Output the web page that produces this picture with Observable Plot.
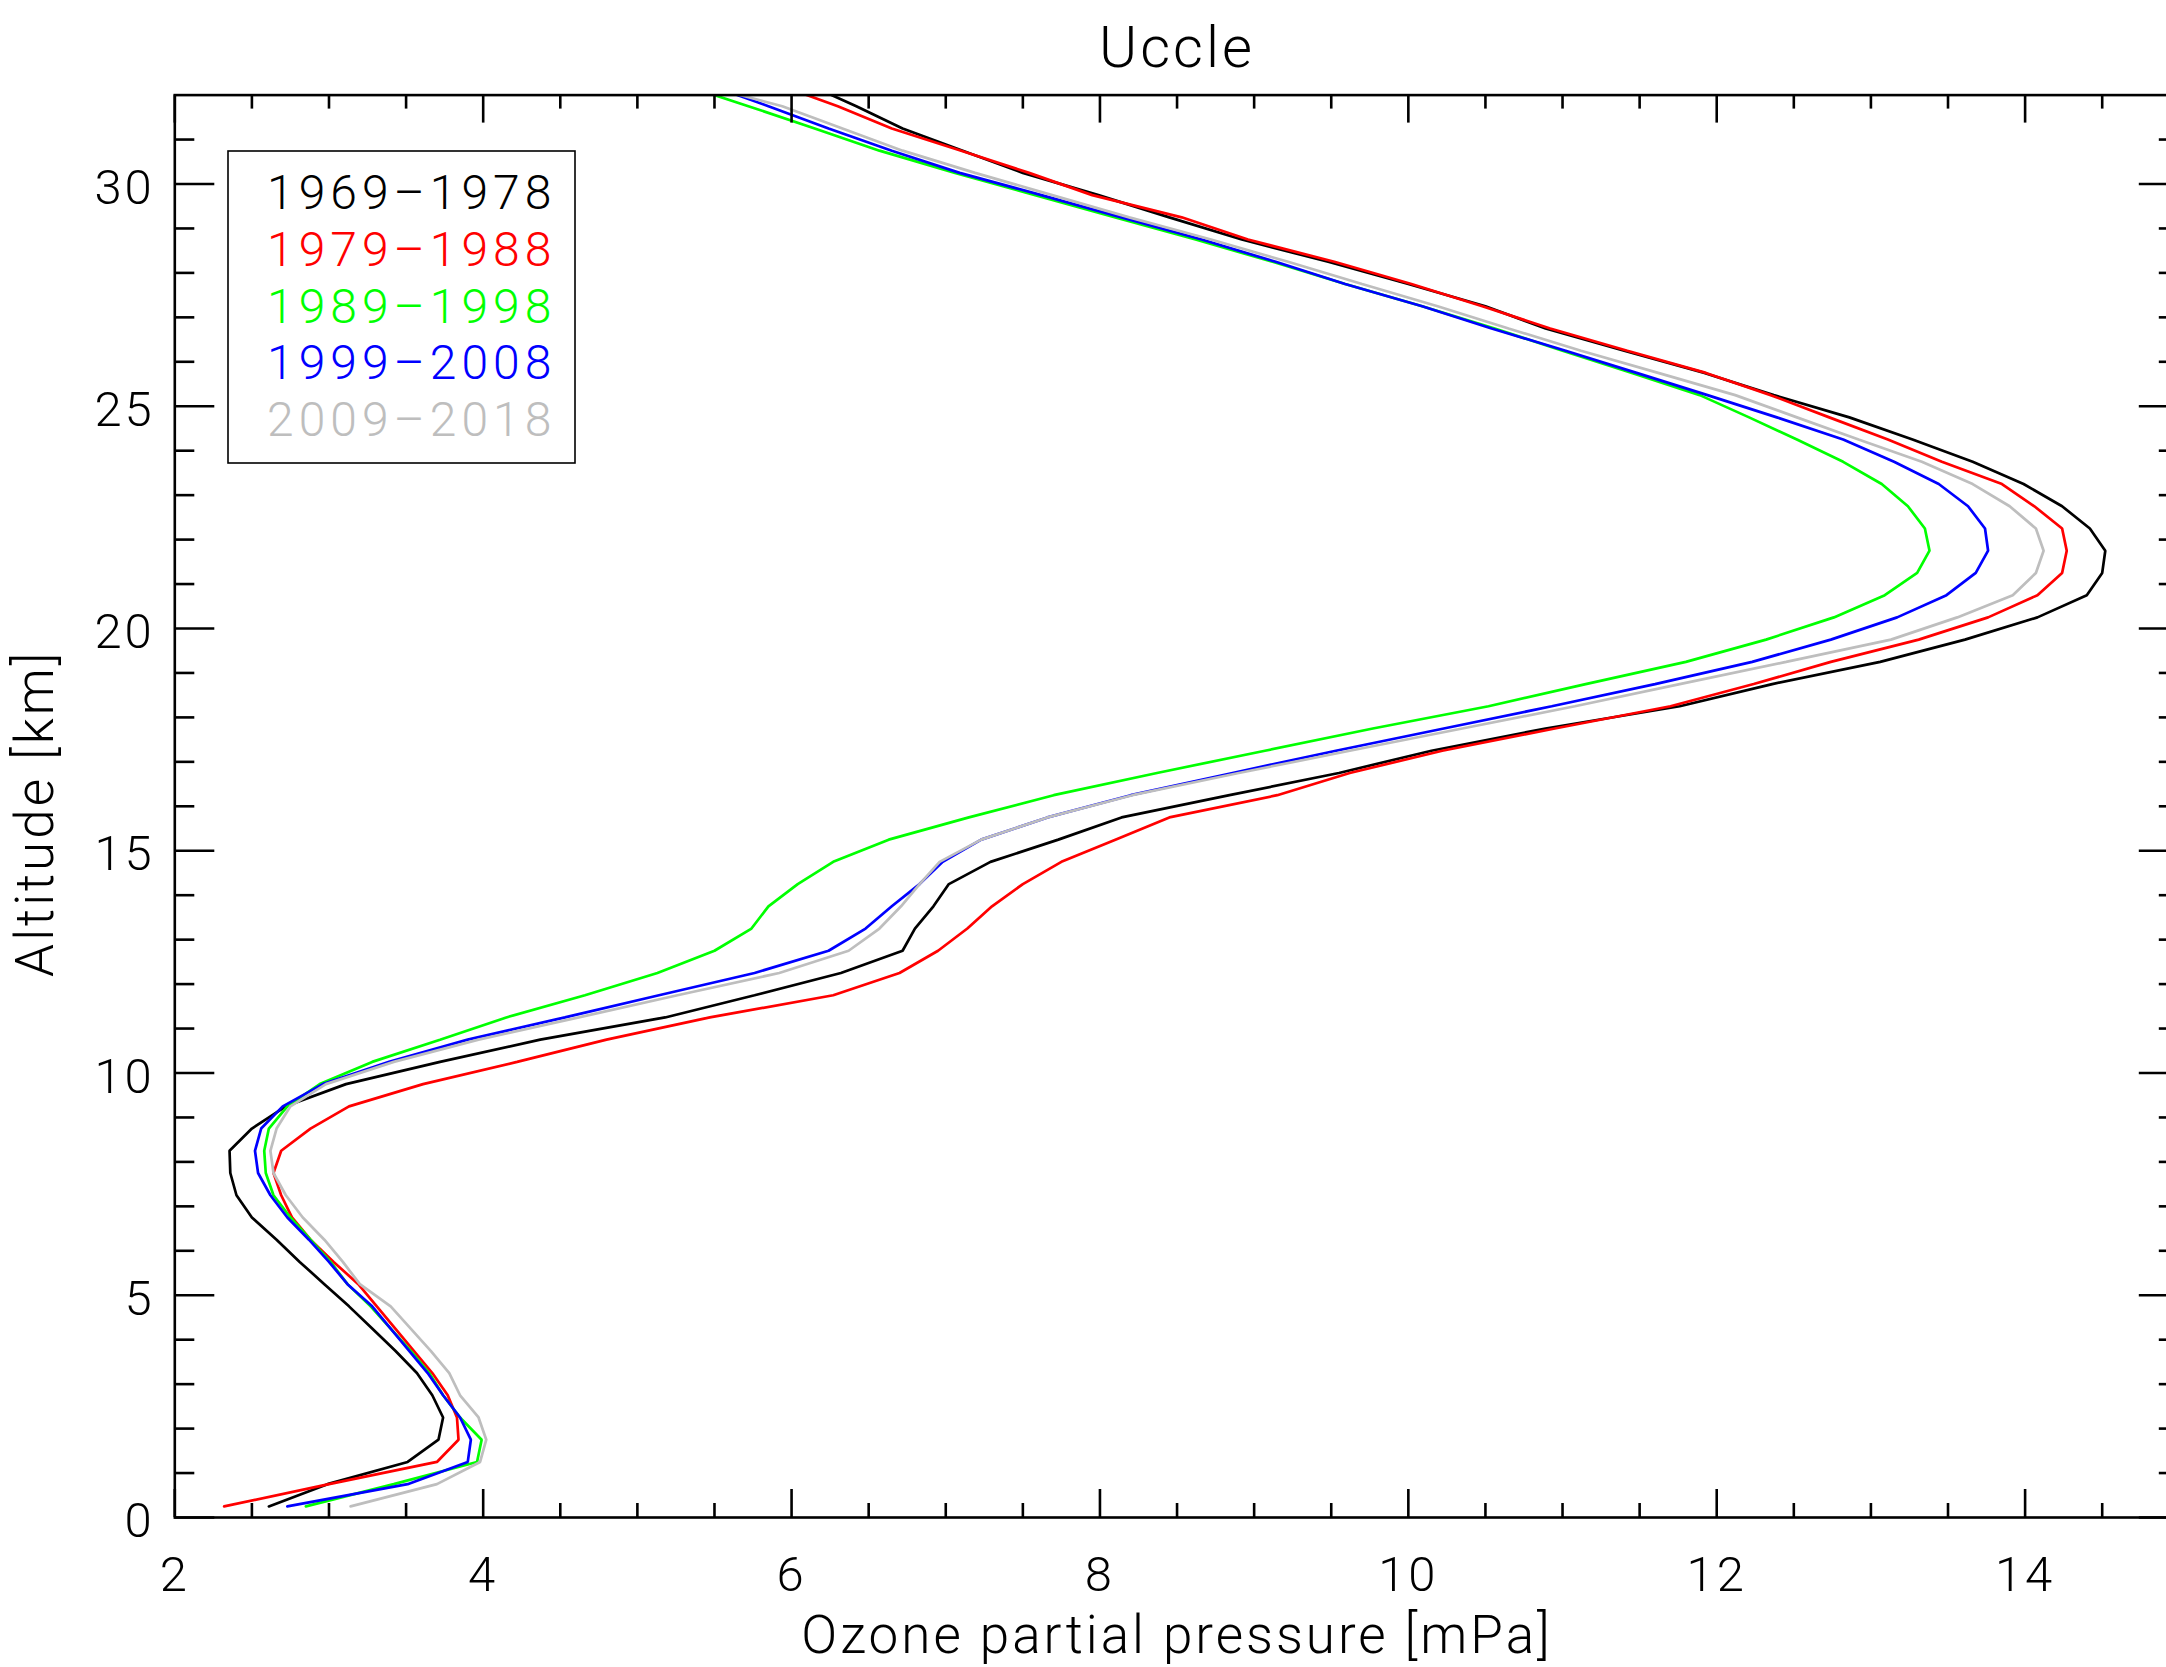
<!DOCTYPE html>
<html>
<head>
<meta charset="utf-8">
<script src="https://cdn.jsdelivr.net/npm/d3@7"></script>
<script src="https://cdn.jsdelivr.net/npm/@observablehq/plot@0.6"></script>
<style>
html, body { margin: 0; padding: 0; background: #fff; overflow: hidden; }
#wrap { position: relative; width: 2166px; height: 1667px; overflow: hidden; background: #fff; }
</style>
</head>
<body>
<div id="wrap"></div>
<script>
// ---------------- data ----------------
const title = "Uccle";
const xLabel = "Ozone partial pressure [mPa]";
const yLabel = "Altitude [km]";
const periods = ["1969–1978", "1979–1988", "1989–1998", "1999–2008", "2009–2018"];
const colors = ["#000000", "#ff0000", "#00ff00", "#0000ff", "#bebebe"];

const altitude = [
  0.25, 0.75, 1.25, 1.75, 2.25, 2.75, 3.25, 3.75, 4.25, 4.75,
  5.25, 5.75, 6.25, 6.75, 7.25, 7.75, 8.25, 8.75, 9.25, 9.75,
  10.25, 10.75, 11.25, 11.75, 12.25, 12.75, 13.25, 13.75, 14.25, 14.75,
  15.25, 15.75, 16.25, 16.75, 17.25, 17.75, 18.25, 18.75, 19.25, 19.75,
  20.25, 20.75, 21.25, 21.75, 22.25, 22.75, 23.25, 23.75, 24.25, 24.75,
  25.25, 25.75, 26.25, 26.75, 27.25, 27.75, 28.25, 28.75, 29.25, 29.75,
  30.25, 30.75, 31.25, 31.75, 32.25
];

const o3_1969_1978 = [
  2.61, 2.99, 3.51, 3.71, 3.74, 3.67, 3.57, 3.43, 3.28, 3.13,
  2.97, 2.81, 2.66, 2.50, 2.40, 2.36, 2.355, 2.50, 2.72, 3.11,
  3.72, 4.37, 5.18, 5.76, 6.32, 6.72, 6.80, 6.92, 7.02, 7.29,
  7.73, 8.14, 8.84, 9.55, 10.15, 10.89, 11.76, 12.36, 13.06, 13.61,
  14.08, 14.40, 14.50, 14.52, 14.42, 14.24, 13.99, 13.66, 13.27, 12.86,
  12.37, 11.92, 11.40, 10.89, 10.50, 10.00, 9.48, 8.92, 8.45, 7.99,
  7.50, 7.11, 6.72, 6.42, 6.10
];
const o3_1979_1988 = [
  2.32, 3.00, 3.70, 3.84, 3.83, 3.77, 3.67, 3.55, 3.43, 3.31,
  3.19, 3.03, 2.88, 2.76, 2.69, 2.64, 2.69, 2.88, 3.13, 3.61,
  4.22, 4.80, 5.47, 6.27, 6.70, 6.95, 7.14, 7.30, 7.50, 7.75,
  8.10, 8.45, 9.15, 9.62, 10.22, 10.95, 11.70, 12.24, 12.74, 13.31,
  13.76, 14.08, 14.24, 14.27, 14.24, 14.06, 13.85, 13.46, 13.11, 12.73,
  12.35, 11.93, 11.42, 10.92, 10.48, 10.02, 9.52, 8.96, 8.53, 7.95,
  7.54, 7.10, 6.65, 6.30, 5.90
];
const o3_1989_1998 = [
  2.85, 3.42, 3.96, 3.99, 3.85, 3.74, 3.65, 3.53, 3.40, 3.27,
  3.12, 3.01, 2.88, 2.75, 2.64, 2.59, 2.58, 2.61, 2.73, 2.94,
  3.28, 3.72, 4.15, 4.66, 5.13, 5.50, 5.74, 5.85, 6.04, 6.27,
  6.63, 7.15, 7.70, 8.37, 9.07, 9.77, 10.52, 11.15, 11.80, 12.32,
  12.76, 13.09, 13.30, 13.38, 13.35, 13.24, 13.07, 12.82, 12.52, 12.21,
  11.89, 11.45, 11.00, 10.56, 10.09, 9.59, 9.12, 8.62, 8.10, 7.58,
  7.06, 6.57, 6.15, 5.72, 5.28
];
const o3_1999_2008 = [
  2.73, 3.51, 3.90, 3.92, 3.85, 3.74, 3.64, 3.52, 3.40, 3.28,
  3.12, 3.00, 2.87, 2.73, 2.62, 2.54, 2.52, 2.56, 2.70, 2.96,
  3.39, 3.90, 4.53, 5.14, 5.76, 6.24, 6.48, 6.65, 6.83, 6.98,
  7.23, 7.66, 8.20, 8.86, 9.53, 10.23, 10.93, 11.60, 12.23, 12.74,
  13.17, 13.49, 13.68, 13.76, 13.74, 13.63, 13.44, 13.15, 12.82, 12.39,
  11.94, 11.48, 11.02, 10.54, 10.09, 9.59, 9.14, 8.66, 8.14, 7.62,
  7.09, 6.65, 6.24, 5.85, 5.45
];
const o3_2009_2018 = [
  3.14, 3.70, 3.98, 4.02, 3.97, 3.85, 3.78, 3.66, 3.53, 3.40,
  3.20, 3.09, 2.97, 2.83, 2.72, 2.64, 2.62, 2.66, 2.75, 2.98,
  3.42, 3.97, 4.62, 5.26, 5.92, 6.37, 6.57, 6.71, 6.83, 6.96,
  7.23, 7.66, 8.21, 8.90, 9.62, 10.35, 11.08, 11.76, 12.45, 13.13,
  13.56, 13.92, 14.07, 14.12, 14.07, 13.90, 13.66, 13.33, 12.92, 12.52,
  12.12, 11.62, 11.12, 10.65, 10.19, 9.70, 9.22, 8.72, 8.19, 7.69,
  7.19, 6.72, 6.33, 5.94, 5.40
];
const seriesValues = [o3_1969_1978, o3_1979_1988, o3_1989_1998, o3_1999_2008, o3_2009_2018];

const xMajorTicks = [2, 4, 6, 8, 10, 12, 14];
const xMinorTicks = [2.5, 3, 3.5, 4.5, 5, 5.5, 6.5, 7, 7.5, 8.5, 9, 9.5, 10.5, 11, 11.5, 12.5, 13, 13.5, 14.5];
const yMajorTicks = [0, 5, 10, 15, 20, 25, 30];
const yMinorTicks = [1, 2, 3, 4, 6, 7, 8, 9, 11, 12, 13, 14, 16, 17, 18, 19, 21, 22, 23, 24, 26, 27, 28, 29, 31];

// ---------------- layout ----------------
const W = 2166, H = 1667;
const mL = 174.3, mR = -12.8, mT = 94.6, mB = 150;
const frameW = W - mL - mR;
const frameH = H - mT - mB;
const FONT = "Roboto, 'DejaVu Sans', sans-serif";
const axisW = 2.6;

const lineMarks = seriesValues.map((vals, i) =>
  Plot.line(vals, {x: vals, y: altitude, stroke: colors[i], strokeWidth: 2.7, clip: true, strokeLinejoin: "miter"})
);

const plot = Plot.plot({
  width: W, height: H,
  marginLeft: mL, marginRight: mR, marginTop: mT, marginBottom: mB,
  style: {fontFamily: FONT, fontWeight: 300, background: "white", overflow: "hidden", letterSpacing: "3px"},
  x: {domain: [2, 15], axis: null},
  y: {domain: [0, 32], axis: null},
  marks: [
    ...lineMarks,
    Plot.frame({stroke: "black", strokeWidth: axisW}),
    // x ticks bottom / top
    Plot.tickX(xMajorTicks, {x: d => d, insetTop: frameH - 28, stroke: "black", strokeWidth: axisW}),
    Plot.tickX(xMinorTicks, {x: d => d, insetTop: frameH - 14, stroke: "black", strokeWidth: axisW}),
    Plot.tickX(xMajorTicks, {x: d => d, insetBottom: frameH - 28, stroke: "black", strokeWidth: axisW}),
    Plot.tickX(xMinorTicks, {x: d => d, insetBottom: frameH - 14, stroke: "black", strokeWidth: axisW}),
    // y ticks left / right
    Plot.tickY(yMajorTicks, {y: d => d, insetRight: frameW - 40, stroke: "black", strokeWidth: axisW}),
    Plot.tickY(yMinorTicks, {y: d => d, insetRight: frameW - 20, stroke: "black", strokeWidth: axisW}),
    Plot.tickY(yMajorTicks, {y: d => d, insetLeft: frameW - 40, stroke: "black", strokeWidth: axisW}),
    Plot.tickY(yMinorTicks, {y: d => d, insetLeft: frameW - 20, stroke: "black", strokeWidth: axisW}),
    // tick labels
    Plot.text(xMajorTicks, {x: d => d, text: d => String(d), frameAnchor: "bottom", dy: 73, textAnchor: "middle", lineAnchor: "bottom", fontSize: 49, fill: "black"}),
    Plot.text(yMajorTicks, {y: d => d, text: d => String(d), frameAnchor: "left", dx: -20, dy: 4, textAnchor: "end", lineAnchor: "middle", fontSize: 49, fill: "black"}),
    // titles
    Plot.text([title], {text: d => d, frameAnchor: "top", dy: -28, textAnchor: "middle", lineAnchor: "bottom", fontSize: 58, fill: "black"}),
    Plot.text([xLabel], {text: d => d, frameAnchor: "bottom", dy: 135, textAnchor: "middle", lineAnchor: "bottom", fontSize: 53, fill: "black"}),
    Plot.text([yLabel], {text: d => d, frameAnchor: "left", dx: -122, dy: 7, rotate: -90, textAnchor: "middle", lineAnchor: "bottom", fontSize: 53, fill: "black"})
  ]
});

const wrap = document.getElementById("wrap");
wrap.appendChild(plot);

// ---------------- legend (overlay) ----------------
const leg = d3.select(wrap).append("svg")
  .attr("width", W).attr("height", H)
  .style("position", "absolute").style("left", "0px").style("top", "0px")
  .style("pointer-events", "none");
leg.append("rect")
  .attr("x", 228).attr("y", 151).attr("width", 347).attr("height", 312)
  .attr("fill", "none").attr("stroke", "black").attr("stroke-width", 1.6);
leg.selectAll("text.lg").data(periods).join("text")
  .attr("class", "lg")
  .attr("x", 267)
  .attr("y", (d, i) => 209 + i * 56.75)
  .attr("fill", (d, i) => colors[i])
  .style("font-family", FONT).style("font-weight", 300)
  .style("font-size", "48px").style("letter-spacing", "5px")
  .text(d => d);
</script>
</body>
</html>
